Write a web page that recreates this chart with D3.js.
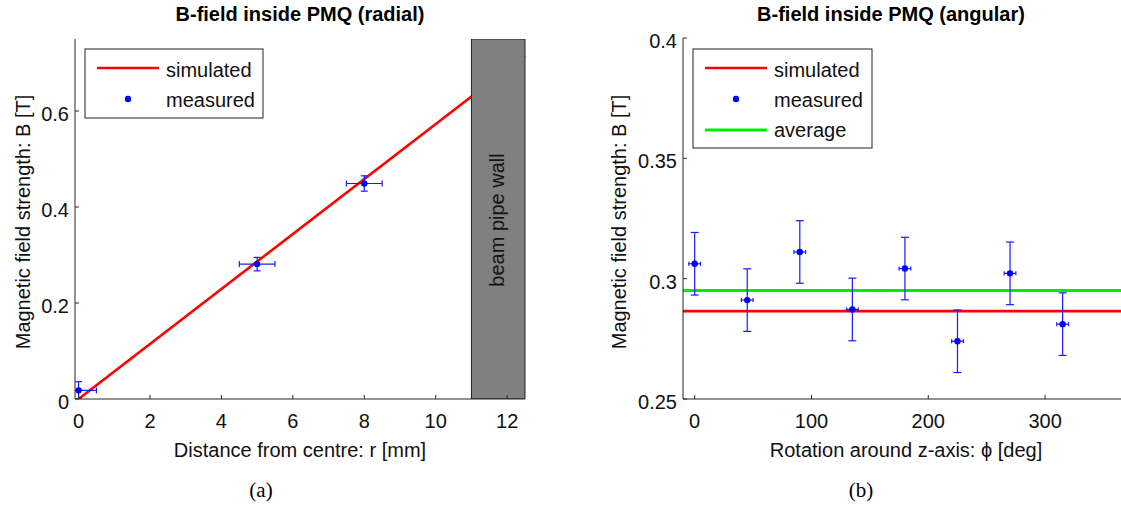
<!DOCTYPE html>
<html><head><meta charset="utf-8">
<script src="https://cdn.jsdelivr.net/npm/d3@7"></script>
<style>
body{margin:0;background:#fff;}
text{font-family:"Liberation Sans",Arial,Helvetica,sans-serif;}
</style></head>
<body><svg id="c" width="1121" height="506"></svg>
<script>
// ---- data: radial ----
const simR = [0, 12.5];
const simB = [0, 0.716];
const measR = [0, 5, 8];
const measB = [0.018, 0.281, 0.449];
const measRerr = [0.5, 0.5, 0.5];
const measBerr = [0.018, 0.014, 0.016];
const wallRange = [11, 12.5];
const radialXTicks = [0, 2, 4, 6, 8, 10, 12];
const radialYTicks = [0, 0.2, 0.4, 0.6];
// ---- data: angular ----
const angPhi = [0, 45, 90, 135, 180, 225, 270, 315];
const angB = [0.3062, 0.2911, 0.3111, 0.2872, 0.3042, 0.274, 0.3022, 0.2811];
const angBerr = [0.013, 0.013, 0.013, 0.013, 0.013, 0.013, 0.013, 0.013];
const angPhiErr = [5, 5, 5, 5, 5, 5, 5, 5];
const simAng = 0.2865;
const avgAng = 0.2951;
const angXTicks = [0, 100, 200, 300];
const angYTicks = [0.25, 0.3, 0.35, 0.4];

const svg = d3.select("#c");
const axisCol = "#262626";
const txtCol = "#111";
const FS_TICK = 20, FS_LAB = 20;

function drawAxes(g, x, y, xt, yt, xfmt, yfmt, box){
  g.append("line").attr("x1",box.l).attr("x2",box.r).attr("y1",box.b).attr("y2",box.b).attr("stroke",axisCol).attr("stroke-width",1);
  g.append("line").attr("x1",box.l).attr("x2",box.l).attr("y1",box.t).attr("y2",box.b).attr("stroke",axisCol).attr("stroke-width",1);
  xt.forEach(v=>{
    const px = x(v);
    g.append("line").attr("x1",px).attr("x2",px).attr("y1",box.b).attr("y2",box.b-4).attr("stroke",axisCol);
    g.append("text").attr("x",px).attr("y",box.b+29).attr("text-anchor","middle").attr("font-size",FS_TICK).attr("fill",txtCol).text(xfmt(v));
  });
  yt.forEach(v=>{
    const py = y(v);
    g.append("line").attr("x1",box.l).attr("x2",box.l+4).attr("y1",py).attr("y2",py).attr("stroke",axisCol);
    g.append("text").attr("x",box.l-6).attr("y",py+10).attr("text-anchor","end").attr("font-size",FS_TICK).attr("fill",txtCol).text(yfmt(v));
  });
}

function errorMarks(g, x, y, xs, ys, xerr, yerr, capY, capX){
  const col = "#1a1aff";
  xs.forEach((p,i)=>{
    const b = ys[i];
    g.append("line").attr("x1",x(p)).attr("x2",x(p)).attr("y1",y(b-yerr[i])).attr("y2",y(b+yerr[i])).attr("stroke",col).attr("stroke-width",1.2);
    [b-yerr[i], b+yerr[i]].forEach(v=>g.append("line").attr("x1",x(p)-capY).attr("x2",x(p)+capY).attr("y1",y(v)).attr("y2",y(v)).attr("stroke",col).attr("stroke-width",1.2));
    g.append("line").attr("x1",x(p-xerr[i])).attr("x2",x(p+xerr[i])).attr("y1",y(b)).attr("y2",y(b)).attr("stroke",col).attr("stroke-width",1.2);
    [p-xerr[i], p+xerr[i]].forEach(v=>g.append("line").attr("x1",x(v)).attr("x2",x(v)).attr("y1",y(b)-capX).attr("y2",y(b)+capX).attr("stroke",col).attr("stroke-width",1.2));
    g.append("circle").attr("cx",x(p)).attr("cy",y(b)).attr("r",3.2).attr("fill","#0000ff");
  });
}

const defs = svg.append("defs");

// ================= left chart =================
{
  const box = {l:75, r:525, t:39, b:399};
  const x = d3.scaleLinear().domain([-0.1, 12.5]).range([box.l, box.r]);
  const y = d3.scaleLinear().domain([0, 0.75]).range([box.b, box.t]);
  defs.append("clipPath").attr("id","clipL").append("rect").attr("x",box.l).attr("y",box.t).attr("width",box.r-box.l+1).attr("height",box.b-box.t);
  const g = svg.append("g");
  const pg = g.append("g").attr("clip-path","url(#clipL)");
  const line = d3.line().x(d=>x(d[0])).y(d=>y(d[1]));
  pg.append("path").datum(d3.zip(simR, simB)).attr("d", line).attr("stroke","#ff0000").attr("stroke-width",2.6).attr("fill","none");
  pg.append("rect").attr("x",x(wallRange[0])).attr("y",box.t).attr("width",x(wallRange[1])-x(wallRange[0])).attr("height",box.b-box.t)
    .attr("fill","#808080").attr("stroke","#222").attr("stroke-width",1);
  g.append("text").attr("transform",`translate(504,220) rotate(-90)`)
    .attr("text-anchor","middle").attr("font-size",FS_LAB).attr("fill","#141414").text("beam pipe wall");
  errorMarks(pg, x, y, measR, measB, measRerr, measBerr, 3.5, 3);
  drawAxes(g, x, y, radialXTicks, radialYTicks, d=>d3.format("d")(d), d=>d===0?"0":d3.format(".1f")(d), box);
  g.append("text").attr("x",300).attr("y",21).attr("text-anchor","middle").attr("font-size",20).attr("font-weight","bold").attr("fill","#000")
    .text("B-field inside PMQ (radial)");
  g.append("text").attr("x",300).attr("y",457).attr("text-anchor","middle").attr("font-size",FS_LAB).attr("fill",txtCol).text("Distance from centre: r [mm]");
  g.append("text").attr("transform","translate(30,222) rotate(-90)").attr("text-anchor","middle").attr("font-size",FS_LAB).attr("fill",txtCol).text("Magnetic field strength: B [T]");
  g.append("text").attr("x",261).attr("y",497).attr("text-anchor","middle").attr("font-size",21)
    .style("font-family","'Liberation Serif','Times New Roman',serif").text("(a)");
  const lg = g.append("g");
  lg.append("rect").attr("x",85).attr("y",49).attr("width",178).attr("height",69).attr("fill","#fff").attr("stroke","#222");
  lg.append("line").attr("x1",97).attr("x2",159).attr("y1",68).attr("y2",68).attr("stroke","#ff0000").attr("stroke-width",2.6);
  lg.append("text").attr("x",166).attr("y",77).attr("font-size",FS_LAB).attr("fill",txtCol).text("simulated");
  lg.append("circle").attr("cx",128).attr("cy",99).attr("r",3.2).attr("fill","#0000ff");
  lg.append("text").attr("x",166).attr("y",107).attr("font-size",FS_LAB).attr("fill",txtCol).text("measured");
}

// ================= right chart =================
{
  const box = {l:683, r:1121, t:38, b:399};
  const x = d3.scaleLinear().domain([-10, 365]).range([box.l, box.r]);
  const y = d3.scaleLinear().domain([0.25, 0.4]).range([box.b, box.t]);
  const g = svg.append("g");
  g.append("line").attr("x1",box.l).attr("x2",box.r).attr("y1",y(avgAng)).attr("y2",y(avgAng)).attr("stroke","#00ee00").attr("stroke-width",3);
  g.append("line").attr("x1",box.l).attr("x2",box.r).attr("y1",y(simAng)).attr("y2",y(simAng)).attr("stroke","#ff0000").attr("stroke-width",2.6);
  errorMarks(g, x, y, angPhi, angB, angPhiErr, angBerr, 4, 2);
  drawAxes(g, x, y, angXTicks, angYTicks, d=>d3.format("d")(d), d=>String(+d.toFixed(2)), box);
  g.append("text").attr("x",891).attr("y",21).attr("text-anchor","middle").attr("font-size",20).attr("font-weight","bold").attr("fill","#000")
    .text("B-field inside PMQ (angular)");
  g.append("text").attr("x",906).attr("y",457).attr("text-anchor","middle").attr("font-size",FS_LAB).attr("fill",txtCol).text("Rotation around z-axis: \u03D5 [deg]");
  g.append("text").attr("transform","translate(626,222) rotate(-90)").attr("text-anchor","middle").attr("font-size",FS_LAB).attr("fill",txtCol).text("Magnetic field strength: B [T]");
  g.append("text").attr("x",861).attr("y",497).attr("text-anchor","middle").attr("font-size",21)
    .style("font-family","'Liberation Serif','Times New Roman',serif").text("(b)");
  const lg = g.append("g");
  lg.append("rect").attr("x",693).attr("y",49).attr("width",179).attr("height",99).attr("fill","#fff").attr("stroke","#222");
  lg.append("line").attr("x1",705).attr("x2",767).attr("y1",68).attr("y2",68).attr("stroke","#ff0000").attr("stroke-width",2.6);
  lg.append("text").attr("x",774).attr("y",77).attr("font-size",FS_LAB).attr("fill",txtCol).text("simulated");
  lg.append("circle").attr("cx",736).attr("cy",99).attr("r",3.2).attr("fill","#0000ff");
  lg.append("text").attr("x",774).attr("y",107).attr("font-size",FS_LAB).attr("fill",txtCol).text("measured");
  lg.append("line").attr("x1",705).attr("x2",767).attr("y1",130).attr("y2",130).attr("stroke","#00ee00").attr("stroke-width",3);
  lg.append("text").attr("x",774).attr("y",137).attr("font-size",FS_LAB).attr("fill",txtCol).text("average");
}
</script></body></html>
